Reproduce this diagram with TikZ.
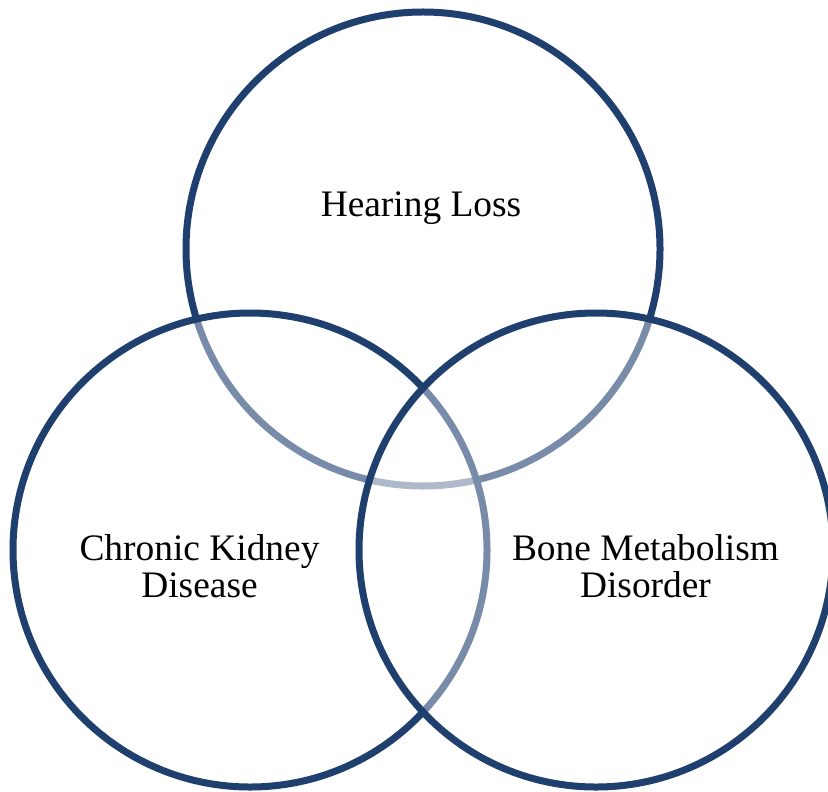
\documentclass[tikz,border=0pt]{standalone}
\usepackage{fontspec}
\setmainfont{Liberation Serif}
\usepackage{tikz}
\usetikzlibrary{positioning}
\definecolor{navy}{RGB}{31,63,110}

\begin{document}
\begin{tikzpicture}[x=0.5pt, y=-0.5pt, font=\fontsize{18.7}{18.5}\selectfont, every node/.style={inner sep=0pt, outer sep=0pt}]
        \tikzset{
            ring/.style={circle, draw=navy, line width=3.5pt, fill=white, fill opacity=0.4, draw opacity=1, minimum size=237pt},
            lbl/.style={align=center, text=black, text opacity=1}
        }
        \useasboundingbox (0,0) rectangle (828,791);
        \node[ring] (hear) at (423,249) {};
        \node[ring] (ckd) at (250,550) {};
        \node[ring] (bone) at (596,550) {};
        \node[lbl, anchor=base] (hearlbl) at (421,216) {Hearing Loss};
        \node[lbl] (ckdlbl) at (199.5,566) {Chronic Kidney\\Disease};
        \node[lbl] (bonelbl) at (645.5,566) {Bone Metabolism\\Disorder};
    \end{tikzpicture}
\end{document}
